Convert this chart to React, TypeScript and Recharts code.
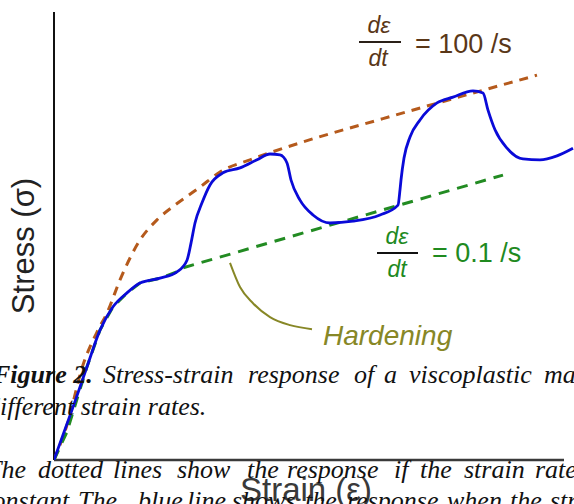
import React from "react";
import { LineChart, Line, XAxis, YAxis, ReferenceLine } from "recharts";

// Viscoplastic response (blue, solid)
const viscoStrain = [0, 0.38, 0.66, 0.92, 1.18, 1.46, 1.72, 2.12, 2.46, 2.66, 2.74, 2.82, 2.96, 3.12, 3.38, 3.72, 4.06, 4.32, 4.52, 4.66, 4.74, 4.92, 5.18, 5.52, 5.98, 6.52, 6.88, 6.92, 6.94, 7.0, 7.12, 7.32, 7.66, 7.98, 8.38, 8.58, 8.68, 8.82, 9.06, 9.38, 9.72, 10.06, 10.38];
const viscoStress = [0, 1.18, 2.08, 2.9, 3.42, 3.73, 3.95, 4.06, 4.2, 4.46, 4.84, 5.29, 5.74, 6.14, 6.41, 6.52, 6.7, 6.83, 6.81, 6.63, 6.25, 5.8, 5.47, 5.29, 5.33, 5.47, 5.69, 6.03, 6.25, 6.74, 7.21, 7.59, 7.97, 8.1, 8.24, 8.19, 7.81, 7.37, 6.96, 6.72, 6.7, 6.79, 6.96];

// Response at constant strain rate 100 /s (brown, dashed)
const fastStrain = [0, 0.26, 0.58, 0.88, 1.06, 1.32, 1.72, 2.06, 2.42, 2.92, 3.32, 3.92, 4.98, 6.58, 9.66];
const fastStress = [0, 0.78, 2.12, 2.9, 3.28, 4.02, 4.91, 5.36, 5.69, 6.09, 6.43, 6.7, 7.1, 7.62, 8.59];

// Response at constant strain rate 0.1 /s (green, dashed)
const slowStrain = [0, 0.26, 0.46, 0.66, 0.92, 1.18, 1.46, 1.72, 2.12, 2.46, 2.58, 8.98];
const slowStress = [0, 0.63, 1.36, 2.08, 2.9, 3.42, 3.73, 3.95, 4.06, 4.2, 4.29, 6.36];

// Hardening pointer curve (olive)
const pointerStrain = [3.52, 3.72, 3.98, 4.32, 4.72, 5.16];
const pointerStress = [4.4, 3.86, 3.5, 3.19, 3.01, 2.92];

const toPoints = (xs: number[], ys: number[]) => xs.map((x, i) => ({ x, y: ys[i] }));

const viscoData = toPoints(viscoStrain, viscoStress);
const fastData = toPoints(fastStrain, fastStress);
const slowData = toPoints(slowStrain, slowStress);
const pointerData = toPoints(pointerStrain, pointerStress);

const captionLine1 = [
  { w: "Stress-strain", x: 103 },
  { w: "response", x: 248 },
  { w: "of", x: 354 },
  { w: "a", x: 384 },
  { w: "viscoplastic", x: 409 },
  { w: "material", x: 544 },
];
const captionLine3 = [
  { w: "The", x: -13 },
  { w: "dotted", x: 38 },
  { w: "lines", x: 113 },
  { w: "show", x: 177 },
  { w: "the", x: 247 },
  { w: "response", x: 287 },
  { w: "if", x: 394 },
  { w: "the", x: 420 },
  { w: "strain", x: 464 },
  { w: "rate", x: 535 },
];
const captionLine4 = [
  { w: "constant.", x: -19 },
  { w: "The", x: 78 },
  { w: "blue", x: 138 },
  { w: "line", x: 187 },
  { w: "shows", x: 232 },
  { w: "the", x: 305 },
  { w: "response", x: 347 },
  { w: "when", x: 447 },
  { w: "the", x: 510 },
  { w: "strain", x: 550 },
];

const sans = "'Liberation Sans', Arial, sans-serif";
const serif = "'Liberation Serif', 'Times New Roman', serif";

export default function App() {
  return (
    <div style={{ position: "absolute", left: 0, top: 0, width: 574, height: 504, background: "#fff", overflow: "hidden" }}>
      <LineChart width={574} height={504} margin={{ top: 12, right: 0, bottom: 44, left: 54 }}>
        <XAxis type="number" dataKey="x" domain={[0, 10.4]} hide allowDataOverflow />
        <YAxis type="number" dataKey="y" domain={[0, 10]} hide allowDataOverflow />
        <ReferenceLine segment={[{ x: 0, y: 0 }, { x: 10.2, y: 0 }]} stroke="#3a3a3a" strokeWidth={2.5} ifOverflow="visible" />
        <ReferenceLine segment={[{ x: 0, y: 0 }, { x: 0, y: 10 }]} stroke="#111" strokeWidth={2} ifOverflow="visible" />
        <Line data={pointerData} dataKey="y" type="monotone" stroke="#878726" strokeWidth={2} dot={false} isAnimationActive={false} />
        <Line data={fastData} dataKey="y" type="monotone" stroke="#b55a1c" strokeWidth={3} strokeDasharray="9 7" dot={false} isAnimationActive={false} />
        <Line data={slowData} dataKey="y" type="linear" stroke="#228b22" strokeWidth={3} strokeDasharray="11 8" dot={false} isAnimationActive={false} />
        <Line data={viscoData} dataKey="y" type="monotone" stroke="#0a0ad8" strokeWidth={2.8} dot={false} isAnimationActive={false} />
      </LineChart>
      <svg width={574} height={504} style={{ position: "absolute", left: 0, top: 0, pointerEvents: "none" }}>
        <text transform="translate(34,246) rotate(-90)" textAnchor="middle" fontFamily={sans} fontSize={31} fill="#222">Stress (σ)</text>
        <text x={240} y={501} fontFamily={sans} fontSize={33} fill="#3a3a3a">Strain (ε)</text>

        <text x={379} y={33} textAnchor="middle" fontFamily={sans} fontStyle="italic" fontSize={23} fill="#5a3718">dε</text>
        <line x1={359} x2={401} y1={42} y2={42} stroke="#2a2018" strokeWidth={2} />
        <text x={378} y={66} textAnchor="middle" fontFamily={sans} fontStyle="italic" fontSize={23} fill="#5a3718">dt</text>
        <text x={415} y={53} fontFamily={sans} fontSize={27} fill="#5a3718">= 100 /s</text>

        <text x={397} y={244} textAnchor="middle" fontFamily={sans} fontStyle="italic" fontSize={23} fill="#1f8a1f">dε</text>
        <line x1={377} x2={418} y1={253} y2={253} stroke="#111" strokeWidth={2} />
        <text x={397} y={277} textAnchor="middle" fontFamily={sans} fontStyle="italic" fontSize={23} fill="#1f8a1f">dt</text>
        <text x={432} y={262} fontFamily={sans} fontSize={27} fill="#1f8a1f">= 0.1 /s</text>

        <text x={323} y={345} fontFamily={sans} fontStyle="italic" fontSize={28} fill="#878726">Hardening</text>

        <g fontFamily={serif} fontStyle="italic" fontSize={26} fill="#111">
          <text x={-7} y={383} fontWeight="bold">Figure 2.</text>
          {captionLine1.map((c) => (
            <text key={"a" + c.x} x={c.x} y={383}>{c.w}</text>
          ))}
          <text x={-13} y={415}>different strain rates.</text>
          {captionLine3.map((c) => (
            <text key={"c" + c.x} x={c.x} y={478}>{c.w}</text>
          ))}
          {captionLine4.map((c) => (
            <text key={"d" + c.x} x={c.x} y={509}>{c.w}</text>
          ))}
        </g>
      </svg>
    </div>
  );
}
